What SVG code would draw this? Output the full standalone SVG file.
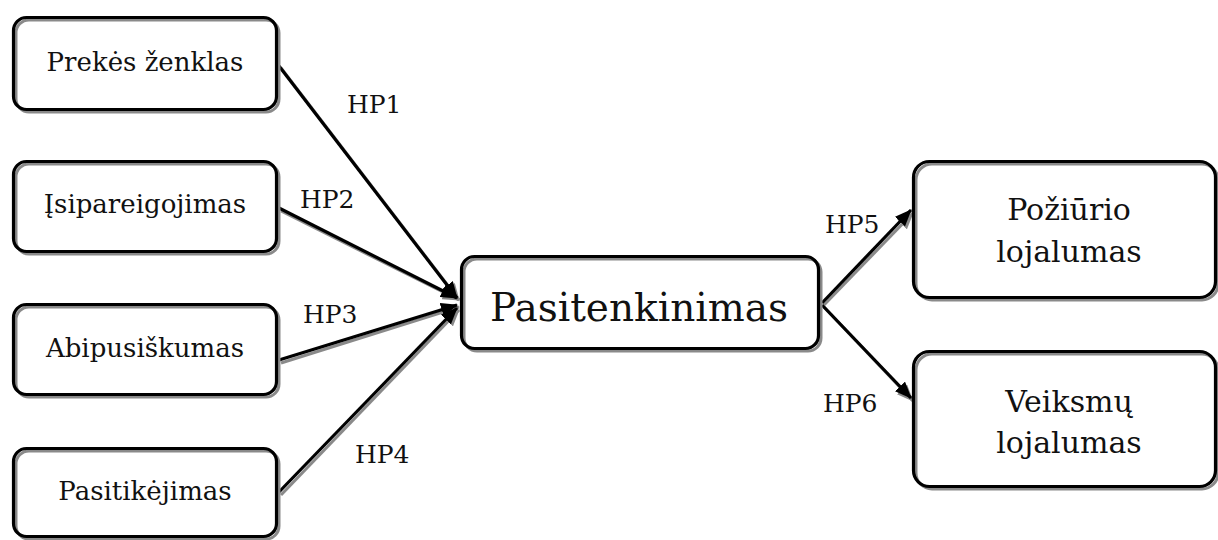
<svg xmlns="http://www.w3.org/2000/svg" width="1218" height="540" viewBox="0 0 1218 540">
  <defs>
    <marker id="ah" markerUnits="userSpaceOnUse" markerWidth="18" markerHeight="14" refX="16" refY="7" orient="auto">
      <path d="M0,0 L17,7 L0,14 z" fill="#000"/>
    </marker>
    <marker id="ahs" markerUnits="userSpaceOnUse" markerWidth="18" markerHeight="14" refX="16" refY="7" orient="auto">
      <path d="M0,0 L17,7 L0,14 z" fill="#8a8a8a"/>
    </marker>
  </defs>
  <style>
    .fill { fill: #fff; stroke: none; }
    .shadow { fill: none; stroke: #8a8a8a; stroke-width: 3; }
    .edge { fill: none; stroke: #000; stroke-width: 3.2; }
    text { font-family: 'DejaVu Serif', serif; fill: #111; }
    .lbl { text-anchor: middle; }
    .small { font-size: 26px; }
    .mid { font-size: 30px; }
    .big { font-size: 39px; }
    .hp { font-size: 25px; }
    .cs { stroke: #8a8a8a; stroke-width: 3; fill: none; }
    .c { stroke: #000; stroke-width: 3.2; fill: none; }
  </style>

  <!-- connectors: grey shadow strokes first, black strokes on top -->
  <g id="connectors">
    <line class="cs" x1="281" y1="68" x2="459" y2="300" marker-end="url(#ahs)"/>
    <line class="cs" x1="281" y1="211" x2="459" y2="300" marker-end="url(#ahs)"/>
    <line class="cs" x1="281" y1="363" x2="459" y2="307" marker-end="url(#ahs)"/>
    <line class="cs" x1="281" y1="495" x2="459" y2="310" marker-end="url(#ahs)"/>
    <line class="cs" x1="824" y1="305" x2="913" y2="213" marker-end="url(#ahs)"/>
    <line class="cs" x1="824" y1="307" x2="913" y2="401" marker-end="url(#ahs)"/>

    <line class="c" x1="279" y1="66" x2="457" y2="298" marker-end="url(#ah)"/>
    <line class="c" x1="279" y1="208" x2="457" y2="298" marker-end="url(#ah)"/>
    <line class="c" x1="279" y1="360" x2="457" y2="305" marker-end="url(#ah)"/>
    <line class="c" x1="279" y1="492" x2="457" y2="308" marker-end="url(#ah)"/>
    <line class="c" x1="822" y1="303" x2="911" y2="210" marker-end="url(#ah)"/>
    <line class="c" x1="822" y1="305" x2="911" y2="398" marker-end="url(#ah)"/>

    <text class="hp" x="347" y="113">HP1</text>
    <text class="hp" x="300" y="208">HP2</text>
    <text class="hp" x="303" y="323">HP3</text>
    <text class="hp" x="355" y="463">HP4</text>
    <text class="hp" x="825" y="233">HP5</text>
    <text class="hp" x="823" y="412">HP6</text>
  </g>

  <g id="node-prekes-zenklas">
    <rect class="fill" x="13.5" y="17.5" width="263" height="92" rx="13"/>
    <rect class="shadow" x="16" y="20" width="263" height="92" rx="13"/>
    <rect class="edge" x="13.5" y="17.5" width="263" height="92" rx="13"/>
    <text class="lbl small" x="145" y="71">Prekės ženklas</text>
  </g>

  <g id="node-isipareigojimas">
    <rect class="fill" x="13.5" y="161.5" width="263" height="90" rx="13"/>
    <rect class="shadow" x="16" y="164" width="263" height="90" rx="13"/>
    <rect class="edge" x="13.5" y="161.5" width="263" height="90" rx="13"/>
    <text class="lbl small" x="145" y="213">Įsipareigojimas</text>
  </g>

  <g id="node-abipusiskumas">
    <rect class="fill" x="13.5" y="304.5" width="263" height="90" rx="13"/>
    <rect class="shadow" x="16" y="307" width="263" height="90" rx="13"/>
    <rect class="edge" x="13.5" y="304.5" width="263" height="90" rx="13"/>
    <text class="lbl small" x="145" y="357">Abipusiškumas</text>
  </g>

  <g id="node-pasitikejimas">
    <rect class="fill" x="13.5" y="448.5" width="263" height="88" rx="13"/>
    <rect class="shadow" x="16" y="451" width="263" height="88" rx="13"/>
    <rect class="edge" x="13.5" y="448.5" width="263" height="88" rx="13"/>
    <text class="lbl small" x="145" y="500">Pasitikėjimas</text>
  </g>

  <g id="node-pasitenkinimas">
    <rect class="fill" x="461.5" y="256.5" width="357" height="92" rx="13"/>
    <rect class="shadow" x="464" y="259" width="357" height="92" rx="13"/>
    <rect class="edge" x="461.5" y="256.5" width="357" height="92" rx="13"/>
    <text class="lbl big" x="639" y="321">Pasitenkinimas</text>
  </g>

  <g id="node-poziurio-lojalumas">
    <rect class="fill" x="913.5" y="161.5" width="302" height="136" rx="16"/>
    <rect class="shadow" x="916" y="164" width="302" height="136" rx="16"/>
    <rect class="edge" x="913.5" y="161.5" width="302" height="136" rx="16"/>
    <text class="lbl mid" x="1069" y="220">Požiūrio</text>
    <text class="lbl mid" x="1069" y="262">lojalumas</text>
  </g>

  <g id="node-veiksmu-lojalumas">
    <rect class="fill" x="913.5" y="351.5" width="302" height="135" rx="16"/>
    <rect class="shadow" x="916" y="354" width="302" height="135" rx="16"/>
    <rect class="edge" x="913.5" y="351.5" width="302" height="135" rx="16"/>
    <text class="lbl mid" x="1069" y="412">Veiksmų</text>
    <text class="lbl mid" x="1069" y="453">lojalumas</text>
  </g>
</svg>
